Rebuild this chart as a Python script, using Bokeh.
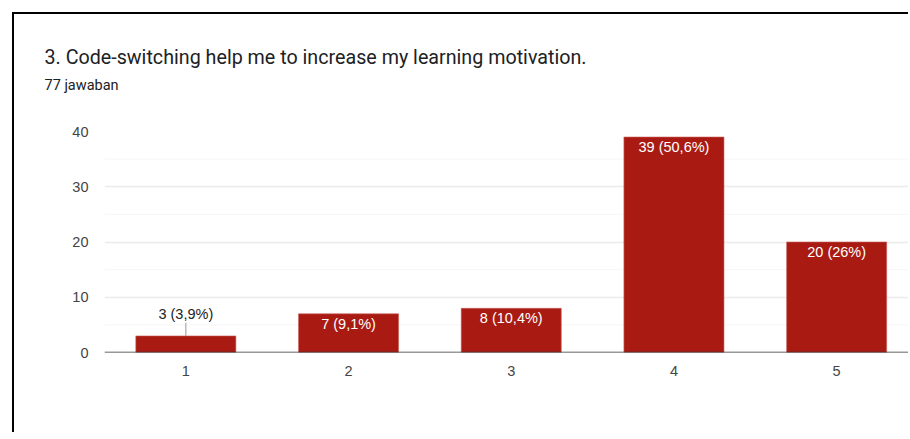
from bokeh.plotting import figure
from bokeh.models import Range1d, FixedTicker, Title, ColumnDataSource
from bokeh.core.properties import value
from bokeh.embed import file_html
from bokeh.resources import INLINE

title_text = "3. Code-switching help me to increase my learning motivation."
subtitle_text = "77 jawaban"
categories = ["1", "2", "3", "4", "5"]
counts = [3, 7, 8, 39, 20]
percent_labels = ["3,9%", "9,1%", "10,4%", "50,6%", "26%"]
y_ticks = [0, 10, 20, 30, 40]
y_minor = [5, 15, 25, 35]

BAR = "#a91b12"
W, H = 896, 420
PL, PT, PB = 90, 117, 82
spacing = 162.7
plot_w = W - PL
xs = list(range(1, len(categories) + 1))

p = figure(width=W, height=H, output_backend="svg", toolbar_location=None, title=None,
           x_range=Range1d(0.5, 0.5 + plot_w / spacing), y_range=Range1d(0, 40),
           min_border_left=PL, min_border_right=0, min_border_top=PT, min_border_bottom=PB)
p.styles = {"border-left": "2px solid #000", "border-top": "2px solid #000",
            "margin-left": "12px", "margin-top": "12px"}
p.outline_line_color = None
p.background_fill_color = "white"
p.border_fill_color = "white"

# minor grid
for v in y_minor:
    p.segment(x0=[0.5], x1=[10], y0=[v], y1=[v], line_color="#f6f6f6", line_width=1)
p.ygrid.ticker = FixedTicker(ticks=y_ticks)
p.ygrid.grid_line_color = "#ebebeb"
p.ygrid.grid_line_width = 1.5
p.xgrid.grid_line_color = None

p.vbar(x=xs, top=counts, width=0.615, color=BAR, line_color="#c9625b", line_width=0.6)

# baseline
p.segment(x0=[0.5], x1=[10], y0=[0], y1=[0], line_color="#333333", line_width=1.5)

labels = [f"{c} ({pc})" for c, pc in zip(counts, percent_labels)]
threshold = 5
inside = [c >= threshold for c in counts]
gap = 2.4
src_in = ColumnDataSource(dict(x=[x for x, i in zip(xs, inside) if i],
                               y=[c for c, i in zip(counts, inside) if i],
                               t=[l for l, i in zip(labels, inside) if i]))
src_out = ColumnDataSource(dict(x=[x for x, i in zip(xs, inside) if not i],
                                y=[c for c, i in zip(counts, inside) if not i],
                                y1=[c + gap for c, i in zip(counts, inside) if not i],
                                t=[l for l, i in zip(labels, inside) if not i]))
p.text(x="x", y="y", text="t", source=src_in, text_color="white", text_align="center",
       text_baseline="top", y_offset=2, text_font=value("Liberation Sans"), text_font_size="14.5px")
p.segment(x0="x", x1="x", y0="y", y1="y1", source=src_out, line_color="#999999", line_width=1)
p.text(x="x", y="y1", text="t", source=src_out, text_color="#222222", text_align="center",
       text_baseline="bottom", y_offset=-1, text_font=value("Liberation Sans"), text_font_size="14.5px")

p.xaxis.ticker = FixedTicker(ticks=xs)
p.xaxis.major_label_overrides = {x: c for x, c in zip(xs, categories)}
p.yaxis.ticker = FixedTicker(ticks=y_ticks)
for ax in (p.xaxis, p.yaxis):
    ax.axis_line_color = None
    ax.major_tick_line_color = None
    ax.minor_tick_line_color = None
    ax.major_label_text_font = "Liberation Sans"
    ax.major_label_text_font_size = "14.5px"
    ax.major_label_text_color = "#444444"
p.xaxis.major_label_standoff = 7
p.yaxis.major_label_standoff = 10

spacer = Title(text=" ", align="left", standoff=33, text_font_size="1px")
sub = Title(text=subtitle_text, align="left", offset=-60, standoff=4,
            text_font="Roboto", text_font_size="14.5px", text_color="#202124",
            text_font_style="normal")
ttl = Title(text=title_text, align="left", offset=-60, standoff=7,
            text_font="Roboto", text_font_size="19.7px", text_color="#202124",
            text_font_style="normal")
p.add_layout(spacer, "above")
p.add_layout(sub, "above")
p.add_layout(ttl, "above")

open("out.html", "w").write(file_html(p, INLINE))
